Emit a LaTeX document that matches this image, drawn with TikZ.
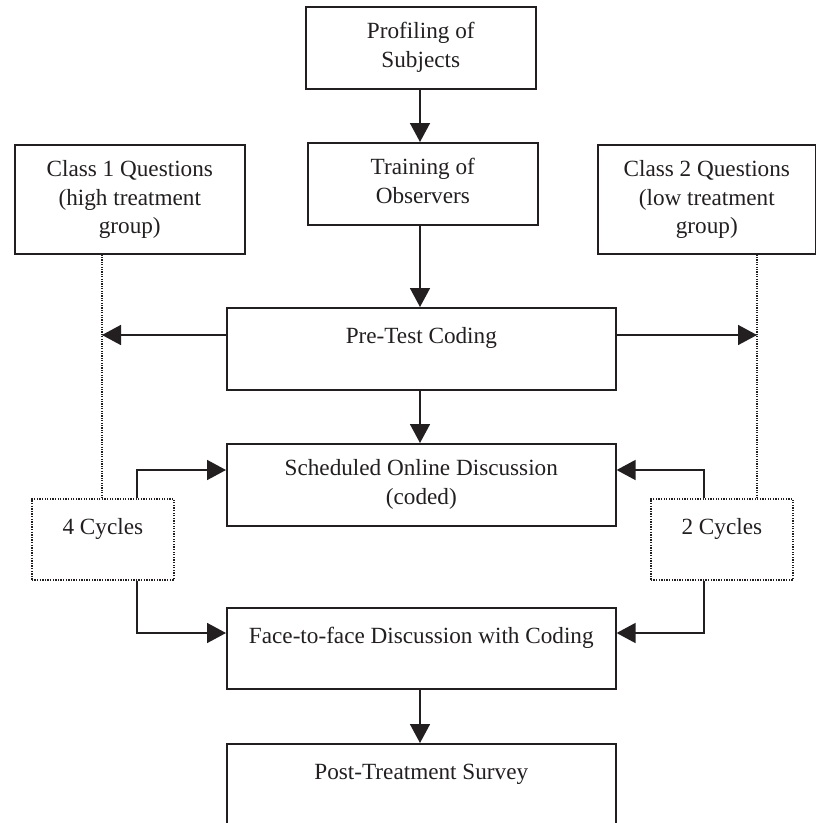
\documentclass[tikz,border=0pt]{standalone}
\usepackage{fontspec}
\setmainfont{Liberation Serif}
\usetikzlibrary{arrows.meta}
\definecolor{ink}{HTML}{231F20}
\tikzset{
  box/.style={draw=ink, line width=1.6pt, rectangle, inner sep=0pt, anchor=north west},
  dotbox/.style={box, line width=1.6pt, dash pattern=on 1.3pt off 1.3pt},
  txt/.style={anchor=north, inner sep=0pt, align=center, text=ink,
    font=\fontsize{23.2}{28.5}\selectfont, execute at begin node=\strut},
  arr/.style={draw=ink, line width=1.6pt, -{Triangle[length=19pt, width=20pt]}},
  dotline/.style={draw=ink, line width=1.5pt, dash pattern=on 1.2pt off 1.2pt},
}
\begin{document}
\begin{tikzpicture}[x=1pt, y=-1pt]
\useasboundingbox (0,0) rectangle (816,823);
\clip (0,0) rectangle (816,823);
\fill[white] (0,0) rectangle (816,823);

% boxes
\node[box, minimum width=230pt, minimum height=82pt] (prof) at (305,6) {};
\node[box, minimum width=230pt, minimum height=82pt] (train) at (307,142) {};
\node[box, minimum width=230pt, minimum height=109pt] (c1) at (14,144) {};
\node[box, minimum width=218pt, minimum height=109pt] (c2) at (597,144) {};
\node[box, minimum width=389pt, minimum height=82pt] (pre) at (226,307) {};
\node[box, minimum width=389pt, minimum height=82pt] (sched) at (226,443) {};
\node[dotbox, minimum width=142pt, minimum height=81pt] (cyc4) at (31,498) {};
\node[dotbox, minimum width=142pt, minimum height=81pt] (cyc2) at (650,498) {};
\node[box, minimum width=389pt, minimum height=81pt] (face) at (226,607) {};
\node[box, minimum width=389pt, minimum height=120pt] (post) at (226,743) {};

% box texts, first baseline about 36pt below the top edge
\node[txt] (tprof) at ([yshift=-16.2pt]prof.north) {Profiling of\\Subjects};
\node[txt] (ttrain) at ([yshift=-16.2pt]train.north) {Training of\\Observers};
\node[txt] (tc1) at ([yshift=-16.2pt]c1.north) {Class 1 Questions\\(high treatment\\group)};
\node[txt] (tc2) at ([yshift=-16.2pt]c2.north) {Class 2 Questions\\(low treatment\\group)};
\node[txt] (tpre) at ([yshift=-16.2pt]pre.north) {Pre-Test Coding};
\node[txt] (tsched) at ([yshift=-16.2pt]sched.north) {Scheduled Online Discussion\\(coded)};
\node[txt] (tcyc4) at ([yshift=-16.2pt]cyc4.north) {4 Cycles};
\node[txt] (tcyc2) at ([yshift=-16.2pt]cyc2.north) {2 Cycles};
\node[txt] (tface) at ([yshift=-16.2pt]face.north) {Face-to-face Discussion with Coding};
\node[txt] (tpost) at ([yshift=-16.2pt]post.north) {Post-Treatment Survey};

% reference columns
\coordinate (xc) at (420,0);
\coordinate (xl) at (102,0);
\coordinate (xr) at (757,0);
\coordinate (x4) at (137,0);
\coordinate (x2) at (704,0);

% main flow
\draw[arr] (prof.south -| xc) -- (train.north -| xc);
\draw[arr] (train.south -| xc) -- (pre.north -| xc);
\draw[arr] (pre.south -| xc) -- (sched.north -| xc);
\draw[arr] (face.south -| xc) -- (post.north -| xc);

% class question lines
\draw[dotline] (c1.south -| xl) -- (cyc4.north -| xl);
\draw[dotline] (c2.south -| xr) -- (cyc2.north -| xr);
\draw[arr] ([yshift=-28pt]pre.north west) -- ([yshift=-28pt]pre.north west -| xl);
\draw[arr] ([yshift=-28pt]pre.north east) -- ([yshift=-28pt]pre.north east -| xr);

% cycles feeding the discussions
\draw[arr] (cyc4.north -| x4) |- ([yshift=-27pt]sched.north west);
\draw[arr] (cyc4.south -| x4) |- ([yshift=-26pt]face.north west);
\draw[arr] (cyc2.north -| x2) |- ([yshift=-27pt]sched.north east);
\draw[arr] (cyc2.south -| x2) |- ([yshift=-26pt]face.north east);
\end{tikzpicture}
\end{document}
